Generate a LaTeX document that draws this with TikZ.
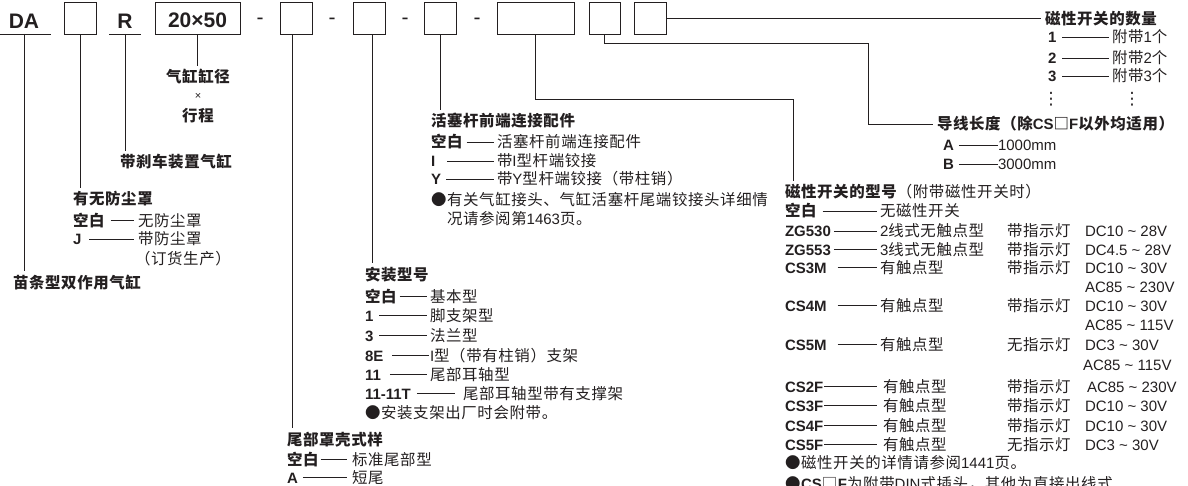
\documentclass[tikz,border=0pt]{standalone}
\usepackage{fontspec}
\setmainfont{Liberation Sans}
\newfontfamily\cjk[Scale=1.03,LetterSpace=4]{Noto Sans CJK SC}
\newfontfamily\dvs{DejaVu Sans}
\usetikzlibrary{calc}
\newcommand\zh[1]{{\cjk #1}}
\newcommand\tld{\textasciitilde}
\definecolor{ink}{HTML}{231F20}
\tikzset{
  vt/.style={inner sep=0pt, outer sep=0pt, anchor=base west, text=ink, font=\fontsize{15}{18}\selectfont},
  kt/.style={vt, font=\fontsize{15}{18}\selectfont\bfseries},
  tt/.style={vt, font=\fontsize{15}{18}\selectfont\bfseries},
  ct/.style={inner sep=0pt, outer sep=0pt, anchor=base, text=ink, font=\fontsize{15}{18}\selectfont\bfseries},
  dl/.style={draw=ink, line width=0.9pt},
  conn/.style={draw=ink, line width=0.9pt, shorten >=4pt},
  codebox/.style={draw=ink, line width=0.9pt, minimum height=31.3pt, inner sep=0pt, text=ink, font=\fontsize{21}{24}\selectfont\bfseries},
  code/.style={inner sep=0pt, outer sep=0pt, anchor=base, text=ink, font=\fontsize{21}{24}\selectfont\bfseries},
  hy/.style={inner sep=0pt, outer sep=0pt, anchor=base, text=ink, font=\fontsize{21}{24}\selectfont},
}
% name, xkey, baseline, key, keygap, xval, value, valgap
\newcommand\lrow[8]{%
  \node[kt] (#1k) at (#2,#3) {#4};
  \node[vt] (#1v) at (#6,#3) {#7};
  \draw[dl] ($(#1k.east)+(#5,0)$) -- ($(#1k.east -| #1v.west)+(-#8,0)$);
}
\begin{document}
\begin{tikzpicture}[x=1pt,y=-1pt]
\useasboundingbox (0,0) rectangle (1188,486);

% ---- code line ----
\node[code] (DA) at (24,29) {DA};
\draw[dl] (0,34) -- (50.7,34);
\coordinate (uDA) at (24,34);
\node[codebox, minimum width=32pt] (b1) at (80,18.4) {};
\node[code] (R) at (125,29) {R};
\draw[dl] (109,34) -- (141,34);
\coordinate (uR) at (125,34);
\node[codebox, minimum width=85pt] (b2) at (197.5,18.4) {};
\node[code] (c2) at (197.5,27.5) {20×50};
\node[hy] (h1) at (260,24.5) {-};
\node[codebox, minimum width=32pt] (b3) at (296,18.4) {};
\node[hy] (h2) at (332,24.5) {-};
\node[codebox, minimum width=32pt] (b4) at (369,18.4) {};
\node[hy] (h3) at (405,24.5) {-};
\node[codebox, minimum width=32pt] (b5) at (440,18.4) {};
\node[hy] (h4) at (477,24.5) {-};
\node[codebox, minimum width=77pt] (b6) at (535.5,18.4) {};
\node[codebox, minimum width=31pt] (b7) at (604.5,18.4) {};
\node[codebox, minimum width=32pt] (b8) at (650,18.4) {};

% ---- DA ----
\node[tt] (tDA) at (13,288) {\zh{苗条型双作用气缸}};
\draw[conn] (uDA) -- (uDA |- tDA.north);

% ---- dust cover ----
\node[tt] (t1) at (73,205) {\zh{有无防尘罩}};
\draw[conn] (b1.south) -- (b1.south |- t1.north);
\lrow{j0}{73}{226.5}{\zh{空白}}{6}{138}{\zh{无防尘罩}}{4}
\lrow{j1}{73}{245}{J}{8}{138}{\zh{带防尘罩}}{4}
\node[vt] (j2) at (135,265) {\zh{（订货生产）}};

% ---- R ----
\node[tt] (tR) at (120,168) {\zh{带刹车装置气缸}};
\draw[conn] (uR) -- (uR |- tR.north);

% ---- bore x stroke ----
\node[ct] (l2a) at (198,83) {\zh{气缸缸径}};
\node[inner sep=0pt, anchor=center, text=ink, font=\fontsize{11}{13}\selectfont] (l2x) at (198,96) {×};
\node[ct] (l2b) at (198,122) {\zh{行程}};
\draw[conn] (b2.south) -- (b2.south |- l2a.north);

% ---- rear cover ----
\node[tt] (t3) at (287,445) {\zh{尾部罩壳式样}};
\draw[conn] ([xshift=-3.5pt]b3.south) -- ([xshift=-3.5pt]b3.south |- t3.north);
\lrow{w0}{287}{465}{\zh{空白}}{2}{352}{\zh{标准尾部型}}{5}
\lrow{w1}{287}{483}{A}{5}{352}{\zh{短尾}}{5}

% ---- mounting ----
\node[tt] (t4) at (365,280) {\zh{安装型号}};
\draw[conn] ([xshift=3pt]b4.south) -- ([xshift=3pt]b4.south |- t4.north);
\lrow{m0}{365}{302}{\zh{空白}}{3}{430}{\zh{基本型}}{3}
\lrow{m1}{365}{321}{1}{6}{430}{\zh{脚支架型}}{3}
\lrow{m2}{365}{341}{3}{6}{430}{\zh{法兰型}}{3}
\lrow{m3}{365}{361}{8E}{9}{430}{I\zh{型（带有柱销）支架}}{1}
\lrow{m4}{365}{380}{11}{9}{430}{\zh{尾部耳轴型}}{3}
\lrow{m5}{365}{399}{11-11T}{6}{463}{\zh{尾部耳轴型带有支撑架}}{8}
\node[vt] (m6) at (365,418) {\zh{●安装支架出厂时会附带。}};

% ---- rod end ----
\node[tt] (t5) at (431,127) {\zh{活塞杆前端连接配件}};
\draw[conn] (b5.south) -- (b5.south |- t5.north);
\lrow{p0}{431}{148}{\zh{空白}}{4}{497}{\zh{活塞杆前端连接配件}}{3}
\lrow{p1}{431}{167}{I}{12}{497}{\zh{带}I\zh{型杆端铰接}}{3}
\lrow{p2}{431}{185}{Y}{5}{497}{\zh{带}Y\zh{型杆端铰接（带柱销）}}{3}
\node[vt] (p3) at (431,206) {\zh{●有关气缸接头、气缸活塞杆尾端铰接头详细情}};
\node[vt] (p4) at (447,225) {\zh{况请参阅第}1463\zh{页。}};

% ---- switch type ----
\node[tt] (t6) at (785,198) {\zh{磁性开关的型号}\mdseries\zh{（附带磁性开关时）}};
\coordinate (j6) at (793,99);
\draw[conn] (b6.south) |- (j6) -- (j6 |- t6.north);
\lrow{s0}{785}{217}{\zh{空白}}{6}{880}{\zh{无磁性开关}}{3}
\lrow{s1}{785}{237}{ZG530}{3}{880}{2\zh{线式无触点型}}{3}
\lrow{s2}{785}{255}{ZG553}{3}{880}{3\zh{线式无触点型}}{3}
\lrow{s3}{785}{273}{CS3M}{11}{880}{\zh{有触点型}}{3}
\lrow{s4}{785}{311}{CS4M}{11}{880}{\zh{有触点型}}{3}
\lrow{s5}{785}{350}{CS5M}{11}{880}{\zh{有触点型}}{3}
\lrow{s6}{785}{392}{CS2F}{1}{883}{\zh{有触点型}}{6}
\lrow{s7}{785}{411}{CS3F}{1}{883}{\zh{有触点型}}{6}
\lrow{s8}{785}{431}{CS4F}{1}{883}{\zh{有触点型}}{6}
\lrow{s9}{785}{450}{CS5F}{1}{883}{\zh{有触点型}}{6}
\node[vt] (s1i) at (1007,237) {\zh{带指示灯}};
\node[vt] (s2i) at (1007,255) {\zh{带指示灯}};
\node[vt] (s3i) at (1007,273) {\zh{带指示灯}};
\node[vt] (s4i) at (1007,311) {\zh{带指示灯}};
\node[vt] (s5i) at (1007,350) {\zh{无指示灯}};
\node[vt] (s6i) at (1007,392) {\zh{带指示灯}};
\node[vt] (s7i) at (1007,411) {\zh{带指示灯}};
\node[vt] (s8i) at (1007,431) {\zh{带指示灯}};
\node[vt] (s9i) at (1007,450) {\zh{无指示灯}};
\node[vt] (s1u) at (1085,237) {DC10 \tld{} 28V};
\node[vt] (s2u) at (1085,255) {DC4.5 \tld{} 28V};
\node[vt] (s3u) at (1085,273) {DC10 \tld{} 30V};
\node[vt] (s3w) at (1085,292) {AC85 \tld{} 230V};
\node[vt] (s4u) at (1085,311) {DC10 \tld{} 30V};
\node[vt] (s4w) at (1085,330) {AC85 \tld{} 115V};
\node[vt] (s5u) at (1085,350) {DC3 \tld{} 30V};
\node[vt] (s5w) at (1083,370) {AC85 \tld{} 115V};
\node[vt] (s6u) at (1087,392) {AC85 \tld{} 230V};
\node[vt] (s7u) at (1085,411) {DC10 \tld{} 30V};
\node[vt] (s8u) at (1085,431) {DC10 \tld{} 30V};
\node[vt] (s9u) at (1085,450) {DC3 \tld{} 30V};
\node[vt] (sn1) at (785,468) {\zh{●磁性开关的详情请参阅}1441\zh{页。}};
\node[vt] (sn2) at (785,489) {\zh{●}\textbf{CS}\zh{□}\textbf{F}\zh{为附带}DIN\zh{式插头，其他为直接出线式}};

% ---- lead wire ----
\node[tt] (t7) at (937,130) {\zh{导线长度（除}CS\zh{□}F\zh{以外均适用）}};
\coordinate (j7) at (868,43);
\draw[conn] (b7.south) |- (j7) |- (t7.west);
\lrow{la}{943}{151}{A}{5}{998}{1000mm}{0}
\lrow{lb}{943}{170}{B}{5}{998}{3000mm}{0}

% ---- number of switches ----
\node[tt] (t8) at (1045,25) {\zh{磁性开关的数量}};
\draw[conn] (b8.east) -- (b8.east -| t8.west);
\lrow{n1}{1048}{43}{1}{6}{1112}{\zh{附带}1\zh{个}}{3}
\lrow{n2}{1048}{63.5}{2}{6}{1112}{\zh{附带}2\zh{个}}{3}
\lrow{n3}{1048}{82}{3}{6}{1112}{\zh{附带}3\zh{个}}{3}
\node[inner sep=0pt, anchor=center, text=ink, font=\dvs\fontsize{17}{20}\selectfont] (e1) at (1051,99.5) {⋮};
\node[inner sep=0pt, anchor=center, text=ink, font=\dvs\fontsize{17}{20}\selectfont] (e2) at (1132,99.5) {⋮};
\end{tikzpicture}
\end{document}
